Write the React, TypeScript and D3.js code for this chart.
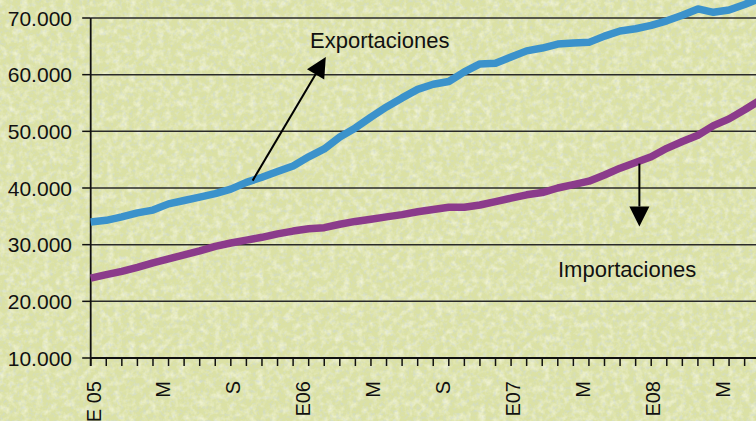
import React, { useRef, useEffect } from "react";
import * as d3 from "d3";

// valores mensuales (millones), enero 2005 en adelante
const exportaciones = [
  34000, 34300, 34900, 35600, 36100, 37200, 37800, 38400, 39000, 39800,
  41000, 41900, 42900, 43900, 45500, 46900, 49000, 50600, 52500, 54300,
  55900, 57400, 58300, 58800, 60500, 61900, 62000, 63100, 64200, 64700,
  65400, 65600, 65700, 66800, 67700, 68100, 68700, 69500, 70500, 71600,
  71000, 71400, 72400, 73500,
];
const importaciones = [
  24100, 24700, 25300, 26000, 26800, 27500, 28200, 28900, 29700, 30300,
  30800, 31300, 31900, 32400, 32800, 33000, 33600, 34100, 34500, 34900,
  35300, 35800, 36200, 36600, 36600, 37000, 37600, 38200, 38800, 39200,
  40000, 40600, 41200, 42300, 43500, 44500, 45500, 47000, 48200, 49300,
  51000, 52200, 53800, 55500,
];
const etiquetasX = ["E 05", "M", "S", "E06", "M", "S", "E07", "M", "E08", "M"];
const ticksY = [10000, 20000, 30000, 40000, 50000, 60000, 70000];

const width = 756,
  height = 421;

const fmt = d3.formatLocale({ decimal: ",", thousands: ".", grouping: [3], currency: ["", ""] }).format(",");

export default function App() {
  const svgRef = useRef<SVGSVGElement>(null);

  useEffect(() => {
    const svg = d3.select(svgRef.current);
    svg.selectAll("*").remove();

    const x = d3.scaleLinear().domain([0, 43]).range([90.7, 760.2]);
    const y = d3.scaleLinear().domain([10000, 70000]).range([358, 18]);
    const xLab = d3
      .scalePoint()
      .domain(etiquetasX.map((d, i) => String(i)))
      .range([x(0.17), x(40.57)]);

    // fondo con textura
    const defs = svg.append("defs");
    const f = defs.append("filter").attr("id", "tex").attr("x", 0).attr("y", 0).attr("width", "100%").attr("height", "100%");
    f.append("feTurbulence").attr("type", "fractalNoise").attr("baseFrequency", 0.14).attr("numOctaves", 3).attr("seed", 4);
    f.append("feColorMatrix").attr("values", "0 0 0 0 1  0 0 0 0 1  0 0 0 0 0.92  1.2 0 0 0 -0.5");
    const f2 = defs.append("filter").attr("id", "tex2").attr("x", 0).attr("y", 0).attr("width", "100%").attr("height", "100%");
    f2.append("feTurbulence").attr("type", "fractalNoise").attr("baseFrequency", 0.3).attr("numOctaves", 2).attr("seed", 9);
    f2.append("feColorMatrix").attr("values", "0 0 0 0 0.62  0 0 0 0 0.7  0 0 0 0 0.72  0 1.5 0 0 -0.72");

    svg.append("rect").attr("width", width).attr("height", height).attr("fill", "#dbe1a4");
    svg.append("rect").attr("width", width).attr("height", height).attr("filter", "url(#tex)");
    svg.append("rect").attr("width", width).attr("height", height).attr("filter", "url(#tex2)");

    // rejilla horizontal
    svg
      .append("g")
      .selectAll("line")
      .data(ticksY.slice(1))
      .join("line")
      .attr("x1", x(0))
      .attr("x2", width)
      .attr("y1", (d) => y(d))
      .attr("y2", (d) => y(d))
      .attr("stroke", "#2a2a2a")
      .attr("stroke-width", 1.5);

    // eje y
    const ay = svg.append("g");
    ay.append("line").attr("x1", x(0)).attr("x2", x(0)).attr("y1", y(70000)).attr("y2", y(10000) + 8).attr("stroke", "#111").attr("stroke-width", 1.8);
    ay.selectAll(".tk")
      .data(ticksY)
      .join("line")
      .attr("x1", x(0) - 8.5)
      .attr("x2", x(0))
      .attr("y1", (d) => y(d))
      .attr("y2", (d) => y(d))
      .attr("stroke", "#111")
      .attr("stroke-width", 1.5);
    ay.selectAll("text")
      .data(ticksY)
      .join("text")
      .attr("x", 72)
      .attr("y", (d) => y(d))
      .attr("dy", "0.36em")
      .attr("text-anchor", "end")
      .attr("font-size", 21)
      .attr("fill", "#111")
      .text((d) => fmt(d));

    // eje x
    const ax = svg.append("g");
    ax.append("line").attr("x1", x(0)).attr("x2", width).attr("y1", y(10000)).attr("y2", y(10000)).attr("stroke", "#111").attr("stroke-width", 1.8);
    ax.selectAll(".tk")
      .data(d3.range(0, 43))
      .join("line")
      .attr("x1", (d) => x(d))
      .attr("x2", (d) => x(d))
      .attr("y1", y(10000))
      .attr("y2", y(10000) + 8)
      .attr("stroke", "#111")
      .attr("stroke-width", 1.5);
    ax.selectAll("text")
      .data(etiquetasX)
      .join("text")
      .attr("transform", (d, i) => `translate(${xLab(String(i))},381) rotate(-90)`)
      .attr("dy", "0.36em")
      .attr("text-anchor", "end")
      .attr("font-size", 20)
      .attr("fill", "#111")
      .text((d) => d);

    // series
    const line = d3
      .line<number>()
      .x((d, i) => x(i))
      .y((d) => y(d));

    svg.append("path").datum(exportaciones).attr("d", line).attr("fill", "none").attr("stroke", "#3b92cb").attr("stroke-width", 7.5).attr("stroke-linejoin", "round");
    svg.append("path").datum(importaciones).attr("d", line).attr("fill", "none").attr("stroke", "#8b3b8b").attr("stroke-width", 7.5).attr("stroke-linejoin", "round");

    // flechas y rótulos
    const arrow = (x1: number, y1: number, x2: number, y2: number) => {
      const a = Math.atan2(y2 - y1, x2 - x1);
      const L = 20,
        W = 10;
      const bx = x2 - L * Math.cos(a),
        by = y2 - L * Math.sin(a);
      svg.append("line").attr("x1", x1).attr("y1", y1).attr("x2", bx).attr("y2", by).attr("stroke", "#000").attr("stroke-width", 2);
      svg
        .append("path")
        .attr(
          "d",
          `M${x2},${y2}L${bx + W * Math.sin(a)},${by - W * Math.cos(a)}L${bx - W * Math.sin(a)},${by + W * Math.cos(a)}Z`
        )
        .attr("fill", "#000");
    };
    arrow(x(10.4), y(41300), x(15.1), y(63100));
    arrow(x(35.24), y(44300), x(35.24), y(33200));

    svg.append("text").attr("x", 310).attr("y", 48).attr("font-size", 22).attr("fill", "#111").text("Exportaciones");
    svg.append("text").attr("x", 558).attr("y", 277).attr("font-size", 22).attr("fill", "#111").text("Importaciones");
  }, []);

  return (
    <svg
      ref={svgRef}
      width={width}
      height={height}
      style={{ position: "fixed", left: 0, top: 0, fontFamily: "'Liberation Sans', Arial, sans-serif" }}
    />
  );
}
